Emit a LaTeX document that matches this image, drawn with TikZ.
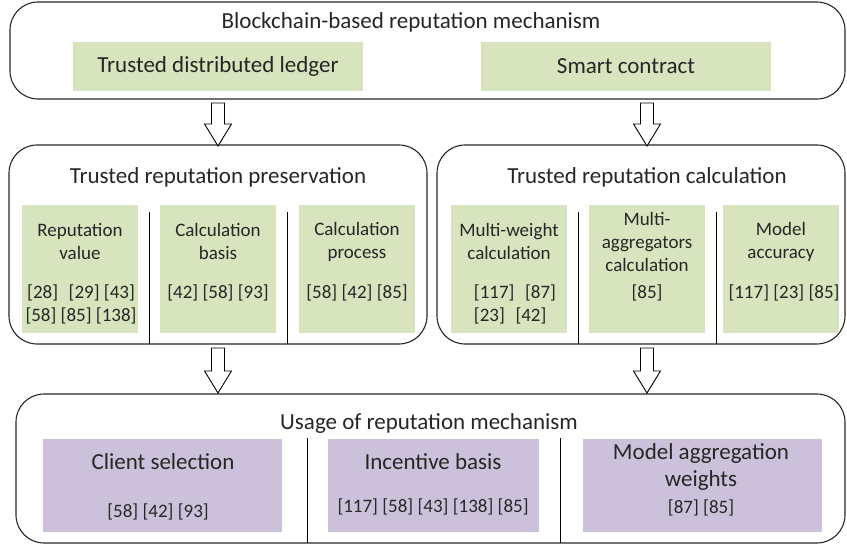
\documentclass[tikz,border=0pt]{standalone}
\usepackage{fontspec}
\setmainfont{Carlito}
\usetikzlibrary{calc}
\definecolor{gfill}{HTML}{D7E4BD}
\definecolor{pfill}{HTML}{CCC1DA}
\definecolor{txt}{HTML}{262626}
\tikzset{
  outer/.style={draw=black!85, line width=1.1pt, rounded corners=28pt},
  gbox/.style={fill=gfill, inner sep=0pt},
  pbox/.style={fill=pfill, inner sep=0pt},
  big/.style={text=txt, font=\fontsize{23}{27}\selectfont, align=center, inner sep=0pt},
  small/.style={text=txt, font=\fontsize{19}{23}\selectfont, align=center, inner sep=0pt},
  sep/.style={draw=black, line width=0.9pt},
  barrow/.style={draw=black, line width=0.9pt, fill=white, line join=miter},
}
\newcommand\blockarrow[2]{%
  \draw[barrow] let \p1=(#1), \p2=(#2) in
    (\x1-6.5pt,\y1) -- (\x1+6.5pt,\y1) -- (\x1+6.5pt,\y2+22pt) -- (\x1+13.5pt,\y2+22pt)
    -- (\x2,\y2) -- (\x1-13.5pt,\y2+22pt) -- (\x1-6.5pt,\y2+22pt) -- cycle;}
\begin{document}
\begin{tikzpicture}[x=1pt,y=-1pt]
\useasboundingbox (0,0) rectangle (847,546);
% ---------- top box
\draw[outer] (10,2) rectangle (845,99);
\node[big] (toptitle) at (411,22) {Blockchain-based reputation mechanism};
\node[gbox, minimum width=290pt, minimum height=49pt] (ledger) at (218,66.5) {};
\node[big] (ledgert) at (218,66.5) {Trusted distributed ledger};
\node[gbox, minimum width=290pt, minimum height=49pt] (smart) at (626,66.5) {};
\node[big] (smartt) at (626,66.5) {Smart contract};
% ---------- middle left box
\draw[sep] (149,212) -- (149,344);
\draw[sep] (287,212) -- (287,344);
\draw[outer] (9,145) rectangle (427,344);
\node[big] (pres) at (218,177) {Trusted reputation preservation};
\node[gbox, minimum width=116pt, minimum height=128pt] (rv) at (80,269) {};
\node[gbox, minimum width=116pt, minimum height=128pt] (cb) at (218,269) {};
\node[gbox, minimum width=116pt, minimum height=128pt] (cp) at (357,269) {};
\node[small] (rvl) at (80,241.5) {Reputation\\value};
\node[small] (rvr) at (81,304) {[28]\,\, [29] [43]\\\relax [58] [85] [138]};
\node[small] (cbl) at (218,241.5) {Calculation\\basis};
\node[small] (cbr) at (218,293) {[42] [58] [93]};
\node[small] (cpl) at (357,241.5) {Calculation\\process};
\node[small] (cpr) at (357,293) {[58] [42] [85]};
% ---------- middle right box
\draw[sep] (578,212) -- (578,344);
\draw[sep] (716,212) -- (716,344);
\draw[outer] (437,145) rectangle (845,344);
\node[big] (calc) at (647,177) {Trusted reputation calculation};
\node[gbox, minimum width=116pt, minimum height=128pt] (mw) at (509,269) {};
\node[gbox, minimum width=116pt, minimum height=128pt] (ma) at (647,269) {};
\node[gbox, minimum width=116pt, minimum height=128pt] (acc) at (781,269) {};
\node[small] (mwl) at (509,241.5) {Multi-weight\\calculation};
\node[small, align=left] (mwr) at (515,304) {[117]\,\, [87]\\\relax [23]\,\, [42]};
\node[small] (mal) at (647,241.5) {Multi-\\aggregators\\calculation};
\node[small] (mar) at (647,293) {[85]};
\node[small] (accl) at (781,241.5) {Model\\accuracy};
\node[small] (accr) at (784,293) {[117] [23] [85]};
% ---------- bottom box
\draw[sep] (307,438) -- (307,543);
\draw[sep] (560,438) -- (560,543);
\draw[outer] (16,394) rectangle (845,543);
\node[big] (usage) at (429,423) {Usage of reputation mechanism};
\node[pbox, minimum width=239pt, minimum height=93pt] (cs) at (162.5,485.5) {};
\node[pbox, minimum width=211pt, minimum height=93pt] (ib) at (433.5,485.5) {};
\node[pbox, minimum width=239pt, minimum height=93pt] (mag) at (702.5,485.5) {};
\node[big] (csl) at (163,462) {Client selection};
\node[small] (csr) at (158,512) {[58] [42] [93]};
\node[big] (ibl) at (433,462) {Incentive basis};
\node[small] (ibr) at (433,507) {[117] [58] [43] [138] [85]};
\node[big] (magl) at (701,466.5) {Model aggregation\\weights};
\node[small] (magr) at (701,508) {[87] [85]};
% ---------- arrows
\coordinate (a1s) at (218,103); \coordinate (a1e) at (218,146);
\coordinate (a2s) at (647,103); \coordinate (a2e) at (647,146);
\coordinate (a3s) at (218,348); \coordinate (a3e) at (218,393);
\coordinate (a4s) at (647,348); \coordinate (a4e) at (647,393);
\blockarrow{a1s}{a1e}
\blockarrow{a2s}{a2e}
\blockarrow{a3s}{a3e}
\blockarrow{a4s}{a4e}
\end{tikzpicture}
\end{document}
